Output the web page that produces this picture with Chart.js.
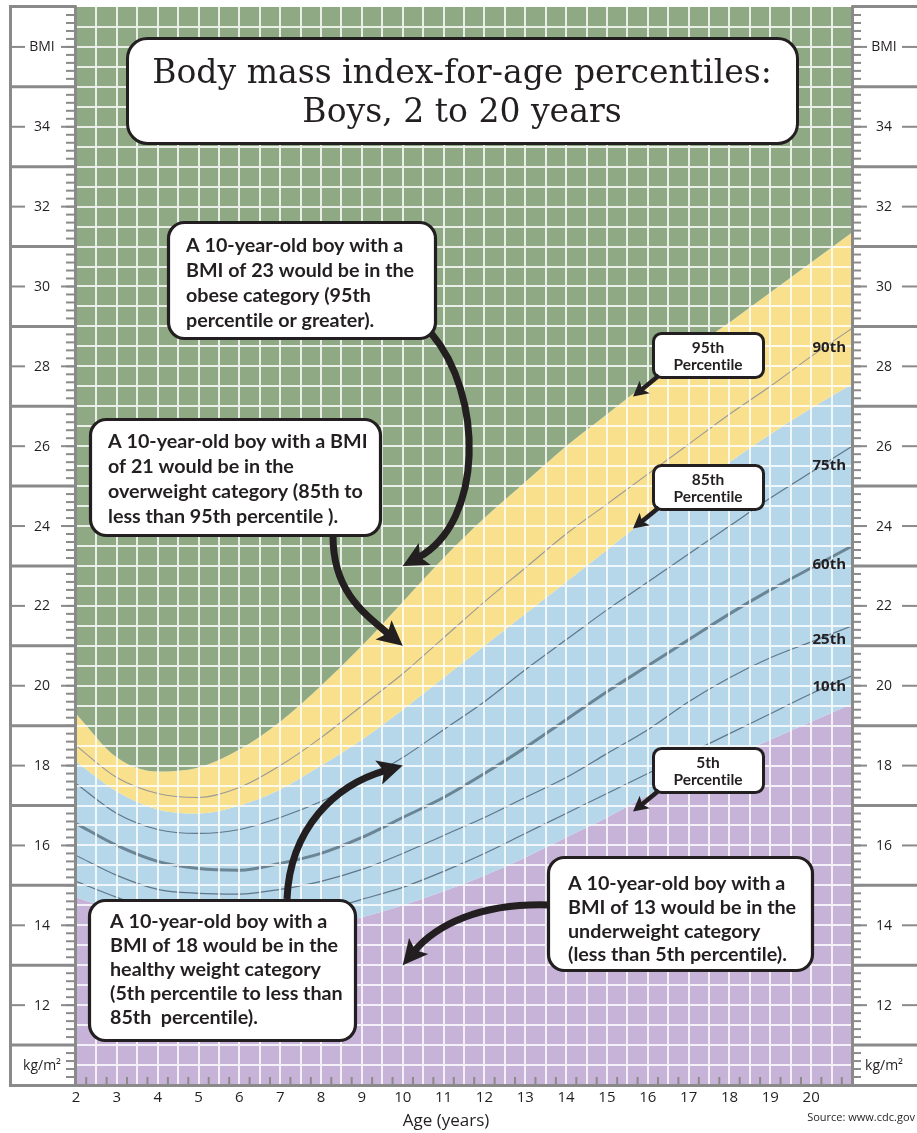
<!DOCTYPE html>
<html><head><meta charset="utf-8">
<script src="https://cdn.jsdelivr.net/npm/chart.js@4.4.1/dist/chart.umd.min.js"></script>
<style>html,body{margin:0;padding:0;background:#fff}#wrap{width:917px;height:1133px;position:relative}</style>
</head><body><div id="wrap"><canvas id="c"></canvas></div>
<script>
// ---- data ----
const ages = [2,3,4,5,6,7,8,9,10,11,12,13,14,15,16,17,18,19,20,21];
const p95 = [19.3,18.2,17.85,17.95,18.4,19.1,20.0,21.0,22.1,23.2,24.2,25.1,26.0,26.8,27.6,28.4,29.1,29.85,30.6,31.35];
const p90 = [18.5,17.7,17.3,17.2,17.45,18.0,18.7,19.5,20.3,21.2,22.1,22.95,23.8,24.55,25.3,26.05,26.8,27.5,28.25,28.95];
const p85 = [18.1,17.35,16.9,16.8,17.0,17.4,18.0,18.65,19.4,20.2,21.0,21.8,22.6,23.4,24.2,24.9,25.6,26.3,26.95,27.55];
const p75 = [17.55,16.8,16.4,16.3,16.4,16.7,17.1,17.6,18.2,18.9,19.6,20.4,21.15,21.9,22.6,23.3,24.0,24.7,25.35,26.0];
const p50 = [16.55,16.0,15.6,15.42,15.38,15.55,15.8,16.2,16.7,17.2,17.8,18.45,19.15,19.85,20.5,21.15,21.8,22.4,22.95,23.5];
const p25 = [15.75,15.25,14.9,14.8,14.78,14.9,15.1,15.4,15.8,16.25,16.7,17.2,17.7,18.3,18.9,19.6,20.2,20.7,21.1,21.5];
const p10 = [15.1,14.7,14.35,14.15,14.1,14.15,14.35,14.65,14.95,15.35,15.8,16.3,16.8,17.3,17.8,18.3,18.8,19.3,19.8,20.25];
const p5  = [14.7,14.35,14.0,13.85,13.8,13.85,14.0,14.2,14.5,14.85,15.25,15.7,16.2,16.7,17.25,17.75,18.2,18.65,19.1,19.55];
const xTickLabels = [2,3,4,5,6,7,8,9,10,11,12,13,14,15,16,17,18,19,20];
const bmiTickLabels = [12,14,16,18,20,22,24,26,28,30,32,34];
const curveLabels = ['90th','75th','60th','25th','10th'];
const titleLines = ['Body mass index-for-age percentiles:','Boys, 2 to 20 years'];
const notes = [
  {lines:['A 10-year-old boy with a','BMI of 23 would be in the','obese category (95th','percentile or greater).'], age:10, bmi:23},
  {lines:['A 10-year-old boy with a BMI','of 21 would be in the','overweight category (85th to','less than 95th percentile ).'], age:10, bmi:21},
  {lines:['A 10-year-old boy with a','BMI of 18 would be in the','healthy weight category','(5th percentile to less than','85th  percentile).'], age:10, bmi:18},
  {lines:['A 10-year-old boy with a','BMI of 13 would be in the','underweight category','(less than 5th percentile).'], age:10, bmi:13}
];
const pctBoxes = [['95th','Percentile'],['85th','Percentile'],['5th','Percentile']];

// ---- styling / layout ----
const GREEN='#8fa985', YELLOW='#f8e08d', BLUE='#b6d6ea', PURPLE='#c7b3d7';
const INK='#231f20', GRAY='#8a8a8a';

const pts = arr => ages.map((a,i)=>({x:a,y:arr[i]}));
const base = {pointRadius:0, pointHoverRadius:0, cubicInterpolationMode:'monotone'};
const datasets = [
  Object.assign({data:pts(p95), fill:'end', backgroundColor:GREEN, borderColor:'rgba(0,0,0,0)', borderWidth:0, order:2}, base),
  Object.assign({data:pts(p85), fill:'-1', backgroundColor:YELLOW, borderColor:'rgba(0,0,0,0)', borderWidth:0, order:2}, base),
  Object.assign({data:pts(p5), fill:'-1', backgroundColor:BLUE, borderColor:'rgba(0,0,0,0)', borderWidth:0, order:2}, base),
  Object.assign({data:pts(p5), fill:'start', backgroundColor:PURPLE, borderColor:'rgba(0,0,0,0)', borderWidth:0, order:2}, base),
  Object.assign({data:pts(p90), fill:false, borderColor:'#9a9a98', borderWidth:1.1, order:1}, base),
  Object.assign({data:pts(p75), fill:false, borderColor:'#5f7787', borderWidth:1.2, order:1}, base),
  Object.assign({data:pts(p50), fill:false, borderColor:'#6a8594', borderWidth:3, order:1}, base),
  Object.assign({data:pts(p25), fill:false, borderColor:'#5f7787', borderWidth:1.2, order:1}, base),
  Object.assign({data:pts(p10), fill:false, borderColor:'#5f7787', borderWidth:1.2, order:1}, base)
];

function rr(ctx,x,y,w,h,r){ctx.beginPath();ctx.moveTo(x+r,y);ctx.arcTo(x+w,y,x+w,y+h,r);ctx.arcTo(x+w,y+h,x,y+h,r);ctx.arcTo(x,y+h,x,y,r);ctx.arcTo(x,y,x+w,y,r);ctx.closePath();}
function box(ctx,x,y,w,h,r,lw){rr(ctx,x,y,w,h,r);ctx.fillStyle='#fff';ctx.fill();ctx.lineWidth=lw;ctx.strokeStyle=INK;ctx.stroke();}
function fitSize(ctx,txt,fam,weight,target){ctx.font=weight+' 20px '+fam;return 20*target/ctx.measureText(txt).width;}
function arrow(ctx,p0,c1,c2,tip,lw,len,half){
  const ang=Math.atan2(tip[1]-c2[1],tip[0]-c2[0]);
  const ca=Math.cos(ang), sa=Math.sin(ang);
  const end=[tip[0]-ca*len*0.7, tip[1]-sa*len*0.7];
  ctx.strokeStyle=INK; ctx.fillStyle=INK; ctx.lineWidth=lw; ctx.lineCap='butt';
  ctx.beginPath(); ctx.moveTo(p0[0],p0[1]);
  if(c1) ctx.bezierCurveTo(c1[0],c1[1],c2[0],c2[1],end[0],end[1]); else ctx.lineTo(end[0],end[1]);
  ctx.stroke();
  const bx=tip[0]-ca*len, by=tip[1]-sa*len, nx=-sa, ny=ca, notch=len*0.22;
  ctx.beginPath(); ctx.moveTo(tip[0],tip[1]);
  ctx.lineTo(bx+nx*half,by+ny*half);
  ctx.lineTo(tip[0]-ca*(len-notch),tip[1]-sa*(len-notch));
  ctx.lineTo(bx-nx*half,by-ny*half);
  ctx.closePath(); ctx.fill();
}

const deco = {
  id:'deco',
  afterDatasetsDraw(chart){
    const {ctx, chartArea:a, scales:{x,y}} = chart;
    ctx.save();
    ctx.strokeStyle='rgba(255,255,255,0.8)'; ctx.lineWidth=2;
    ctx.beginPath();
    for(let v=2.5; v<21; v+=0.5){const px=Math.round(x.getPixelForValue(v)); ctx.moveTo(px,a.top); ctx.lineTo(px,a.bottom);}
    for(let v=10.5; v<37; v+=0.5){const py=Math.round(y.getPixelForValue(v)); ctx.moveTo(a.left,py); ctx.lineTo(a.right,py);}
    ctx.stroke();
    ctx.restore();
  },
  afterDraw(chart){
    const {ctx, chartArea:a, scales:{x,y}} = chart;
    const L=a.left, R=a.right, T=a.top, B=a.bottom, W=chart.width;
    const seg=(x1,y1,x2,y2)=>{ctx.beginPath();ctx.moveTo(x1,y1);ctx.lineTo(x2,y2);ctx.stroke();};
    ctx.save();
    if ('textRendering' in ctx) ctx.textRendering='optimizeSpeed';
    // minor BMI ticks
    ctx.strokeStyle=GRAY; ctx.lineWidth=2;
    for(let i=0;i<=135;i++){const v=10+i*0.2; const py=y.getPixelForValue(v); seg(L-10,py,L,py); seg(R,py,R+9,py);}
    // panel frames
    ctx.lineWidth=3;
    seg(10.5,T-1.5,10.5,B+1.5);
    seg(L-0.5,T-1.5,L-0.5,B+1.5);
    seg(R+0.5,T-1.5,R+0.5,B+1.5);
    seg(9,T-0.5,L,T-0.5); seg(R,T-0.5,W,T-0.5);
    seg(9,B+0.5,W,B+0.5);
    for(let v=11; v<=35; v+=2){const py=y.getPixelForValue(v); seg(10,py,L,py); seg(R,py,W,py);}
    // BMI labels
    ctx.fillStyle=INK; ctx.textAlign='center'; ctx.textBaseline='middle';
    ctx.font='14px "Open Sans"';
    const lab=(t,v,dash)=>{const py=y.getPixelForValue(v); ctx.fillText(t,42,py+0.5); ctx.fillText(t,884,py+0.5);
      if(dash){ctx.lineWidth=2; seg(11,py,25,py); seg(61,py,L,py); seg(R,py,867,py); seg(902,py,W,py);} };
    bmiTickLabels.forEach(v=>lab(String(v),v,true));
    lab('BMI',36,true);
    lab('kg/m\u00B2',10.5,false);
    // x ticks & labels
    ctx.lineWidth=2; ctx.strokeStyle=GRAY;
    for(let g=2; g<=20; g++){[0.25,0.75].forEach(f=>{const px=x.getPixelForValue(g+f); seg(px,B-8,px,B);});}
    ctx.font='15px "Open Sans"';
    xTickLabels.forEach(v=>ctx.fillText(String(v), x.getPixelForValue(v), B+13));
    ctx.font='17px "Open Sans"'; ctx.fillText('Age (years)', 446, B+36);
    ctx.font='11px "Open Sans"'; ctx.textAlign='right'; ctx.fillText('Source: www.cdc.gov', W-2, B+33);
    // curve labels
    ctx.font='bold 15px "Open Sans"'; ctx.textAlign='right';
    const cly=[348,466,565,640,687];
    curveLabels.forEach((t,i)=>ctx.fillText(t, R-6, cly[i]));
    // title
    box(ctx,127.5,38.5,670,105,20,3);
    const tf='"DejaVu Serif"';
    const ts=fitSize(ctx,titleLines[0],tf,'',620);
    ctx.font=ts+'px '+tf; ctx.fillStyle=INK; ctx.textAlign='center'; ctx.textBaseline='middle';
    ctx.fillText(titleLines[0],462,74); ctx.fillText(titleLines[1],462,113);
    // note boxes
    const nf='Lato';
    const ns=fitSize(ctx,'overweight category (85th to',nf,'bold',255);
    const nb=[[168.5,222.5,267,116,16,186,246,25],[90.5,419.5,290,116,16,108,442,25],[89.5,900.5,266,140,16,110,922,23.8],[548.5,857.5,264,113,16,568,884,23.6]];
    notes.forEach((n,i)=>{const b=nb[i]; box(ctx,b[0],b[1],b[2],b[3],b[4],3.2);
      ctx.fillStyle=INK; ctx.font='bold '+ns+'px '+nf; ctx.textAlign='left'; ctx.textBaseline='middle';
      n.lines.forEach((t,j)=>ctx.fillText(t,b[5],b[6]+j*b[7]));});
    // percentile boxes
    const pb=[333.5,465.5,748.5];
    pctBoxes.forEach((p,i)=>{box(ctx,653.5,pb[i],110,44,8,3);
      ctx.fillStyle=INK; ctx.font='bold 15.5px '+nf; ctx.textAlign='center'; ctx.textBaseline='middle';
      ctx.fillText(p[0],708,pb[i]+14); ctx.fillText(p[1],708,pb[i]+31);
      arrow(ctx,[659,pb[i]+42],null,[659,pb[i]+42],[633,pb[i]+63],4.5,15,8);});
    // curved arrows to the example points
    const tip=n=>[x.getPixelForValue(n.age), y.getPixelForValue(n.bmi)];
    arrow(ctx,[431,333],[484,395],[484,522],tip(notes[0]),7,25,12.5);
    arrow(ctx,[333,536],[333,590],[362,612],tip(notes[1]),7,25,12.5);
    arrow(ctx,[287,899],[290,828],[335,785],tip(notes[2]),7,25,12.5);
    arrow(ctx,[549,905],[480,903],[436,925],tip(notes[3]),7,25,12.5);
    ctx.restore();
  }
};

new Chart(document.getElementById('c'), {
  type:'line',
  data:{datasets},
  options:{
    responsive:true, maintainAspectRatio:false, animation:false, devicePixelRatio:1,
    layout:{padding:{left:76,right:65,top:7,bottom:48}},
    scales:{
      x:{type:'linear',min:2,max:21,display:false},
      y:{type:'linear',min:10,max:37,display:false}
    },
    plugins:{legend:{display:false},tooltip:{enabled:false}},
    events:[]
  },
  plugins:[deco]
});
</script></body></html>
